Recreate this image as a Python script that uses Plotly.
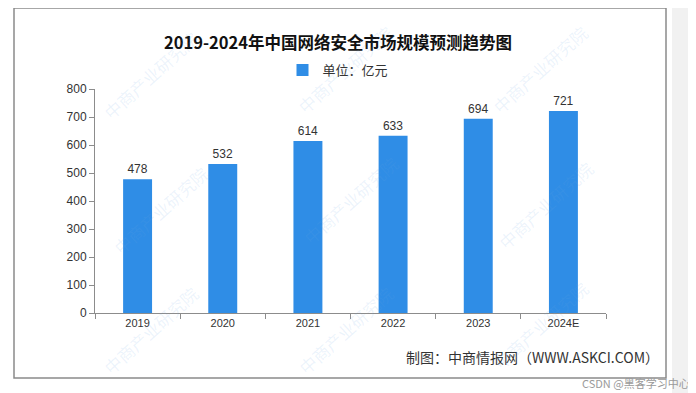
import plotly.graph_objects as go

categories = ["2019", "2020", "2021", "2022", "2023", "2024E"]
values = [478, 532, 614, 633, 694, 721]
y_ticks = [0, 100, 200, 300, 400, 500, 600, 700, 800]
title_text = "2019-2024年中国网络安全市场规模预测趋势图"
series_name = "单位：亿元"
source_text = "制图：中商情报网（WWW.ASKCI.COM）"
watermark = "中商产业研究院"

W, H = 696, 393
OFF = 8  # page body margin
L, R, T, B = 95 - OFF, W - (606 - OFF), 89 - OFF, H - (313 - OFF)
pw, ph = W - L - R, H - T - B

def px(x):
    return (x - OFF - L) / pw

def py(y):
    return (H - B - (y - OFF)) / ph

bar_color = "#2f8de6"
font_cjk = "Noto Sans CJK SC"

fig = go.Figure()
fig.add_trace(go.Bar(
    x=categories, y=values, name=series_name,
    marker=dict(color=bar_color, line=dict(width=0)),
    text=[str(v) for v in values], textposition="outside",
    textfont=dict(size=12, color="#333333", family="Arial"),
    cliponaxis=False, width=0.34,
))

shapes = [
    dict(type="rect", xref="paper", yref="paper", x0=px(672), x1=px(704), y0=py(400), y1=py(0),
         fillcolor="#f1f1f1", line=dict(width=0), layer="below"),
    dict(type="rect", xref="paper", yref="paper", x0=px(0), x1=px(704), y0=py(5), y1=py(-8),
         fillcolor="#f3f3f3", line=dict(width=0), layer="below"),
    dict(type="rect", xref="paper", yref="paper", x0=px(14), x1=px(666), y0=py(378), y1=py(8),
         fillcolor="rgba(0,0,0,0)", line=dict(color="#8a8a8a", width=1.5), layer="below"),
]

annotations = [
    dict(text=source_text, xref="paper", yref="paper", x=px(661), y=py(357),
         xanchor="right", yanchor="middle", showarrow=False,
         font=dict(size=14, color="#333333", family=font_cjk)),
    dict(text="CSDN @黑客学习中心", xref="paper", yref="paper", x=px(692), y=py(383),
         xanchor="right", yanchor="middle", showarrow=False,
         font=dict(size=11, color="#9a9a9a", family=font_cjk)),
]
wm_pos = [(150, 75), (345, 70), (540, 70), (160, 210), (350, 200), (545, 205), (150, 330), (345, 330), (540, 325)]
for (wx, wy) in wm_pos:
    annotations.append(dict(text=watermark, xref="paper", yref="paper", x=px(wx), y=py(wy),
                            xanchor="center", yanchor="middle", showarrow=False, textangle=-42,
                            font=dict(size=17, color="rgba(110,165,225,0.13)", family=font_cjk)))

fig.update_layout(
    width=W, height=H,
    margin=dict(l=L, r=R, t=T, b=B, autoexpand=False),
    paper_bgcolor="white", plot_bgcolor="rgba(0,0,0,0)",
    title=dict(text="<b>" + title_text + "</b>", x=(338 - OFF) / W, xanchor="center",
               y=1 - (43 - OFF) / H, yanchor="middle",
               font=dict(size=16.5, color="#111111", family=font_cjk)),
    showlegend=True,
    legend=dict(orientation="h", x=px(338), xanchor="center", y=py(70), yanchor="middle",
                font=dict(size=13, color="#333333", family=font_cjk), itemwidth=30,
                bgcolor="rgba(0,0,0,0)"),
    shapes=shapes, annotations=annotations,
    xaxis=dict(type="category", showline=True, linecolor="#8c8c8c", linewidth=1,
               ticks="outside", tickson="boundaries", ticklen=5, tickcolor="#8c8c8c",
               tickfont=dict(size=11, color="#333333", family="Arial"), showgrid=False,
               range=[-0.5, 5.5]),
    yaxis=dict(range=[0, 800], tickvals=y_ticks, showline=True, linecolor="#8c8c8c", linewidth=1,
               ticks="outside", ticklen=5, tickcolor="#8c8c8c", showgrid=False, zeroline=False,
               tickfont=dict(size=12, color="#333333", family="Arial")),
)

fig.write_html("out.html")
